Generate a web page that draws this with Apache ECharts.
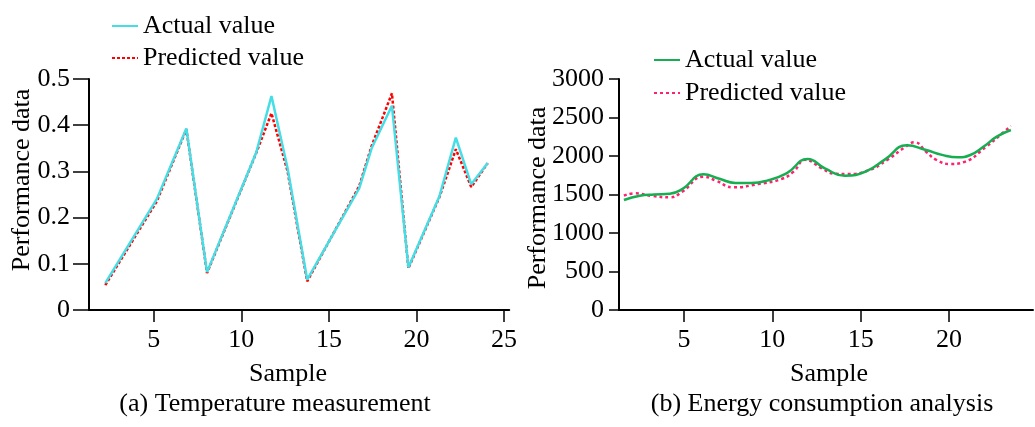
<!DOCTYPE html>
<html>
<head>
<meta charset="utf-8">
<script src="https://cdn.jsdelivr.net/npm/echarts@6/dist/echarts.min.js"></script>
<style>
  html, body { margin: 0; padding: 0; background: #fff; }
  #wrap { position: relative; width: 1035px; height: 427px; }
  #chartA { position: absolute; left: 0; top: 0; width: 520px; height: 427px; }
  #chartB { position: absolute; left: 520px; top: 0; width: 515px; height: 427px; }
</style>
</head>
<body>
<div id="wrap">
  <div id="chartA"></div>
  <div id="chartB"></div>
</div>
<script>
// (a) temperature measurement
const sampleA = [2.23, 5.17, 6.86, 8.04, 10.85, 11.72, 12.64, 13.76, 16.73, 17.44, 18.6, 19.54, 21.32, 22.25, 23.13, 24.07];
const actualA = [0.058, 0.240, 0.393, 0.082, 0.341, 0.463, 0.307, 0.066, 0.263, 0.350, 0.442, 0.092, 0.247, 0.373, 0.272, 0.318];
const predA   = [0.054, 0.235, 0.391, 0.080, 0.340, 0.426, 0.300, 0.062, 0.268, 0.355, 0.469, 0.090, 0.245, 0.348, 0.266, 0.318];
const xTicksA = [5, 10, 15, 20, 25];

// (b) energy consumption analysis
const sampleBActual = [1.6, 2.5, 3.3, 4.2, 4.9, 6.1, 7.0, 7.9, 8.8, 9.7, 10.8, 12.0, 13.0, 14.1, 15.3, 16.4, 17.6, 18.7, 19.6, 20.5, 21.2, 22.0, 22.7, 23.5];
const actualB       = [1429, 1485, 1500, 1510, 1570, 1762, 1705, 1650, 1650, 1680, 1775, 1961, 1835, 1745, 1800, 1960, 2138, 2078, 2015, 1983, 2013, 2130, 2251, 2338];
const sampleBPred   = [1.6, 2.2, 3.2, 4.2, 4.9, 6.1, 6.8, 7.8, 9.2, 10.5, 11.2, 11.85, 12.8, 13.5, 14.2, 15.5, 16.5, 17.5, 18.05, 18.7, 19.3, 20.1, 20.8, 22.1, 22.9, 23.5];
const predB         = [1485, 1515, 1481, 1463, 1537, 1731, 1680, 1593, 1636, 1700, 1797, 1950, 1840, 1770, 1766, 1818, 1950, 2113, 2178, 2056, 1948, 1896, 1918, 2121, 2273, 2390];
const xTicksB = [5, 10, 15, 20];

const FONT = 'Liberation Serif';
const zip = (xs, ys) => xs.map((x, i) => [x, ys[i]]);

function label(text, x, y, vertical) {
  return {
    type: 'text',
    x: x,
    y: y,
    rotation: vertical ? Math.PI / 2 : 0,
    style: {
      text: text,
      font: '26px "' + FONT + '"',
      fill: '#000',
      textAlign: 'center',
      textVerticalAlign: 'middle',
    },
  };
}

function buildOption(cfg) {
  return {
    animation: false,
    textStyle: { fontFamily: FONT },
    grid: { left: cfg.gridLeft, top: 79, width: cfg.gridWidth, height: 231, containLabel: false },
    legend: {
      orient: 'vertical',
      left: cfg.legendLeft,
      top: cfg.legendTop,
      itemWidth: 26,
      itemHeight: 14,
      itemGap: cfg.legendGap,
      data: ['Actual value', 'Predicted value'],
      itemStyle: { opacity: 0 },
      textStyle: { fontFamily: FONT, fontSize: 26, color: '#000', lineHeight: 26 },
    },
    xAxis: {
      type: 'value',
      min: cfg.xMin,
      max: cfg.xMax,
      splitLine: { show: false },
      axisLine: { onZero: false, lineStyle: { color: '#000', width: 2 } },
      axisTick: { customValues: cfg.xTicks, length: 12, lineStyle: { color: '#000', width: 1.5 } },
      axisLabel: { customValues: cfg.xTicks, margin: 17, color: '#000', fontFamily: FONT, fontSize: 26 },
    },
    yAxis: {
      type: 'value',
      min: 0,
      max: cfg.yMax,
      interval: cfg.yInterval,
      splitLine: { show: false },
      axisLine: { show: true, lineStyle: { color: '#000', width: 2 } },
      axisTick: { show: true, length: cfg.yTickLen, lineStyle: { color: '#000', width: 1.5 } },
      axisLabel: {
        margin: cfg.yLabelMargin,
        color: '#000',
        fontFamily: FONT,
        fontSize: 26,
        formatter: (v) => String(v),
      },
    },
    graphic: [
      label('Performance data', cfg.yName[0], cfg.yName[1], true),
      label('Sample', cfg.xName[0], cfg.xName[1], false),
      label(cfg.title, cfg.titlePos[0], cfg.titlePos[1], false),
    ],
    series: cfg.series,
  };
}

const chartA = echarts.init(document.getElementById('chartA'), null, { renderer: 'canvas' });
chartA.setOption(buildOption({
  gridLeft: 89, gridWidth: 428,
  xMin: 1.3, xMax: 25.3, xTicks: xTicksA,
  yMax: 0.5, yInterval: 0.1, yTickLen: 16, yLabelMargin: 19,
  legendLeft: 106, legendTop: 8, legendGap: 6,
  yName: [22, 180], xName: [288, 374], title: '(a) Temperature measurement', titlePos: [275, 404],
  series: [
    {
      name: 'Predicted value',
      type: 'line',
      symbol: 'none',
      z: 2,
      data: zip(sampleA, predA),
      lineStyle: { color: '#FF0000', width: 2.5, type: [3, 2] },
      itemStyle: { color: '#FF0000' },
    },
    {
      name: 'Actual value',
      type: 'line',
      symbol: 'none',
      z: 3,
      data: zip(sampleA, actualA),
      lineStyle: { color: '#45DDE6', width: 2.5 },
      itemStyle: { color: '#45DDE6' },
    },
  ],
}));

const chartB = echarts.init(document.getElementById('chartB'), null, { renderer: 'canvas' });
chartB.setOption(buildOption({
  gridLeft: 99, gridWidth: 414,
  xMin: 1.32, xMax: 24.75, xTicks: xTicksB,
  yMax: 3000, yInterval: 500, yTickLen: 10, yLabelMargin: 15,
  legendLeft: 128, legendTop: 42, legendGap: 7,
  yName: [18, 198], xName: [309, 374], title: '(b) Energy consumption analysis', titlePos: [302, 404],
  series: [
    {
      name: 'Predicted value',
      type: 'line',
      symbol: 'none',
      smooth: 0.5,
      z: 2,
      data: zip(sampleBPred, predB),
      lineStyle: { color: '#FF2070', width: 2.5, type: [3, 3] },
      itemStyle: { color: '#FF2070' },
    },
    {
      name: 'Actual value',
      type: 'line',
      symbol: 'none',
      smooth: 0.5,
      z: 3,
      data: zip(sampleBActual, actualB),
      lineStyle: { color: '#17AE52', width: 2.5 },
      itemStyle: { color: '#17AE52' },
    },
  ],
}));
</script>
</body>
</html>
